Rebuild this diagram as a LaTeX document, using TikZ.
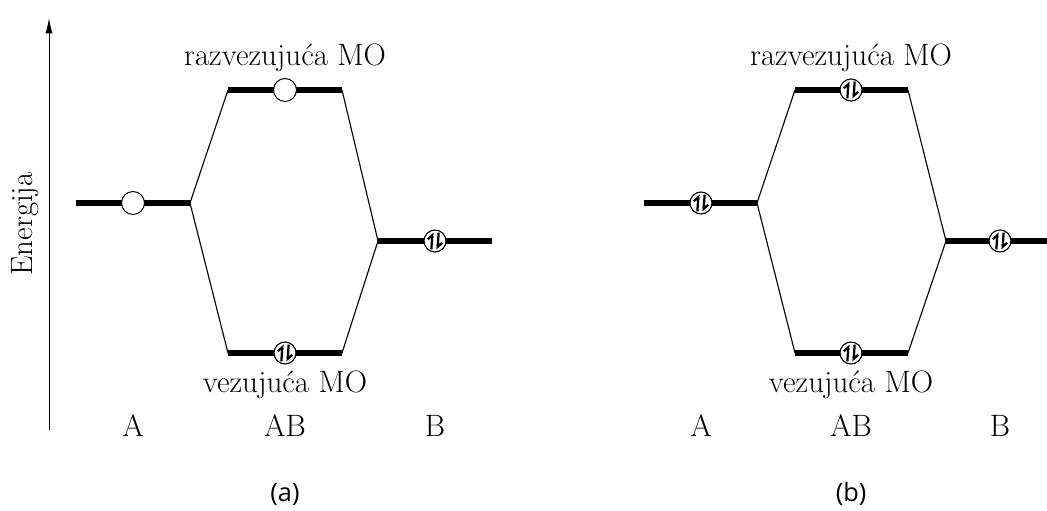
\documentclass[tikz,border=0pt]{standalone}
\usepackage{fontspec}
\newfontfamily\capfont{Open Sans}
\usetikzlibrary{arrows.meta,positioning}

\tikzset{
  level/.style={line width=6.5*0.025cm},
  link/.style={line width=0.8pt},
  lbl/.style={font=\fontsize{22}{26}\selectfont, anchor=base, inner sep=0pt},
  captxt/.style={font=\capfont\fontsize{18}{21}\selectfont, inner sep=0pt},
  emptyorb/.style={circle, draw, line width=0.7pt, fill=white, minimum size=23*0.025cm, inner sep=0pt},
  pair/.style={circle, draw, line width=0.8pt, fill=white, minimum size=22*0.025cm, inner sep=0pt,
    path picture={
      \draw[line width=1.6pt, -{Straight Barb[left,length=3pt,width=6pt]}]
        ([xshift=-2.6pt,yshift=-6pt]path picture bounding box.center) --
        ([xshift=-1.8pt,yshift=6pt]path picture bounding box.center);
      \draw[line width=1.6pt, -{Straight Barb[left,length=3pt,width=6pt]}]
        ([xshift=2.6pt,yshift=6pt]path picture bounding box.center) --
        ([xshift=1.8pt,yshift=-6pt]path picture bounding box.center);
    }},
}

\begin{document}
\begin{tikzpicture}[x=0.025cm,y=-0.025cm]
\useasboundingbox (0,0) rectangle (1047,511);

% energy axis
\coordinate (E_lo) at (49,430);
\coordinate (E_hi) at (49,18);
\draw[line width=0.7pt,-{Latex[length=11pt,width=5pt]}] (E_lo) -- (E_hi);
\node[lbl, rotate=90, anchor=base] (E) at (32,224) {Energija};

% panel (a)
\coordinate (a_A1) at (76,203);  \coordinate (a_A2) at (190,203);
\coordinate (a_R1) at (228,90);  \coordinate (a_R2) at (342,90);
\coordinate (a_V1) at (228,353); \coordinate (a_V2) at (342,353);
\coordinate (a_B1) at (378,241); \coordinate (a_B2) at (492,241);
\draw[link] (a_A2) -- (a_R1) (a_A2) -- (a_V1)
            (a_R2) -- (a_B1) (a_V2) -- (a_B1);
\draw[level] (a_A1) -- (a_A2) (a_R1) -- (a_R2)
             (a_V1) -- (a_V2) (a_B1) -- (a_B2);
\node[emptyorb] (a_eA) at (133,203) {};
\node[emptyorb] (a_eR) at (285,90) {};
\node[pair]  (a_eV) at (285,353) {};
\node[pair]  (a_eB) at (435,241) {};
\node[lbl] (a_raz) at (285,66) {razvezujuća MO};
\node[lbl] (a_vez) at (285,393) {vezujuća MO};
\node[lbl] (a_lA) at (133,437) {A};
\node[lbl] (a_lAB) at (285,437) {AB};
\node[lbl] (a_lB) at (435,437) {B};
\node[captxt] (a_cap) at (285,494) {(a)};

% panel (b)
\coordinate (b_A1) at (644,203); \coordinate (b_A2) at (757,203);
\coordinate (b_R1) at (795,90);  \coordinate (b_R2) at (908,90);
\coordinate (b_V1) at (795,353); \coordinate (b_V2) at (908,353);
\coordinate (b_B1) at (946,241); \coordinate (b_B2) at (1047,241);
\draw[link] (b_A2) -- (b_R1) (b_A2) -- (b_V1)
            (b_R2) -- (b_B1) (b_V2) -- (b_B1);
\draw[level] (b_A1) -- (b_A2) (b_R1) -- (b_R2)
             (b_V1) -- (b_V2) (b_B1) -- (b_B2);
\node[pair] (b_eA) at (701,203) {};
\node[pair] (b_eR) at (851,90) {};
\node[pair] (b_eV) at (851,353) {};
\node[pair] (b_eB) at (1000,241) {};
\node[lbl] (b_raz) at (851,66) {razvezujuća MO};
\node[lbl] (b_vez) at (851,393) {vezujuća MO};
\node[lbl] (b_lA) at (701,437) {A};
\node[lbl] (b_lAB) at (851,437) {AB};
\node[lbl] (b_lB) at (1000,437) {B};
\node[captxt] (b_cap) at (851,494) {(b)};
\end{tikzpicture}
\end{document}
